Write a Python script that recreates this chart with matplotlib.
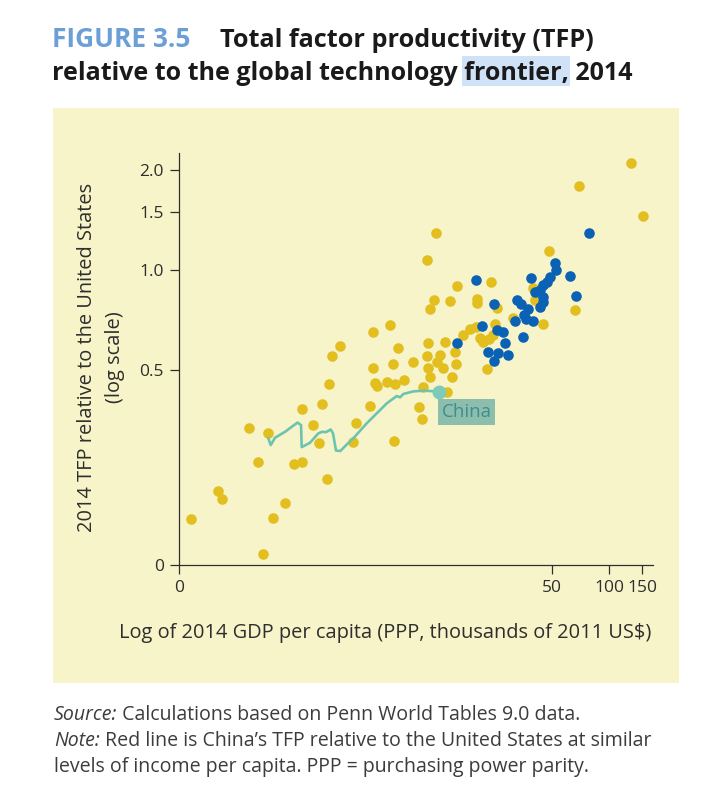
import numpy as np
import matplotlib
matplotlib.use("Agg")
import matplotlib.pyplot as plt
from matplotlib import font_manager as fm
from matplotlib.patches import Rectangle

# Figure size in pixels (dpi 100)
W, H = 709, 797

# --- data (natural logs: GDP per capita in thousands of 2011 US$, TFP relative to US) ---
yellow_log_gdp = [4.873, 4.240, 5.019, 2.501, 2.392, 3.876, 2.757, 3.170, 2.477, 2.428,
                  2.672, 3.000, 3.000, 3.243, 3.681, 3.705, 4.192, 3.803, 3.438, 1.942,
                  1.735, 2.830, 2.915, 2.988, 3.219, 3.036, 3.073, 3.146, 3.195, 3.122,
                  2.404, 2.611, 2.039, 1.334, 1.237, 2.732, 2.392, 2.550, 2.514, 2.587,
                  2.745, 2.222, 1.979, 1.735, 2.404, 2.428, 2.696, 2.112, 2.343, 2.635,
                  1.760, 1.784, 1.906, 2.003, 1.200, 1.699, 0.872, 1.115, 2.295, 2.331,
                  0.228, 0.459, 1.006, 1.529, 1.079, 1.492, 1.991, 0.337, 0.775, 0.872,
                  1.176, -0.149, -0.101, 0.665, -0.478, 0.519, 0.398]
yellow_log_tfp = [0.742, 0.582, 0.374, 0.256, 0.069, 0.132, -0.111, -0.083, -0.208, -0.270,
                  -0.215, -0.201, -0.229, -0.263, -0.125, -0.208, -0.277, -0.374, -0.333, -0.381,
                  -0.430, -0.450, -0.409, -0.395, -0.374, -0.471, -0.499, -0.478, -0.450, -0.686,
                  -0.506, -0.499, -0.541, -0.527, -0.596, -0.568, -0.596, -0.589, -0.638, -0.679,
                  -0.651, -0.638, -0.651, -0.679, -0.679, -0.742, -0.742, -0.762, -0.811, -0.845,
                  -0.783, -0.804, -0.776, -0.790, -0.790, -0.942, -0.963, -0.929, -0.949, -1.033,
                  -1.095, -1.130, -1.074, -1.060, -1.199, -1.192, -1.185, -1.331, -1.344, -1.331,
                  -1.448, -1.532, -1.587, -1.615, -1.726, -1.719, -1.968]

blue_log_gdp = [4.362, 2.988, 3.948, 3.961, 4.131, 3.657, 3.888, 3.851, 3.803, 3.766,
                3.705, 4.204, 3.803, 3.803, 3.486, 3.535, 3.766, 3.207, 3.620, 3.572,
                3.462, 3.596, 3.681, 3.061, 3.243, 3.316, 3.559, 2.757, 3.340, 3.134,
                3.255, 3.377, 3.207]
blue_log_tfp = [0.256, -0.069, 0.049, 0.000, -0.042, -0.055, -0.049, -0.083, -0.104, -0.139,
                -0.152, -0.180, -0.187, -0.222, -0.208, -0.236, -0.256, -0.236, -0.270, -0.312,
                -0.353, -0.340, -0.353, -0.388, -0.416, -0.430, -0.464, -0.506, -0.506, -0.568,
                -0.575, -0.589, -0.631]

china_log_gdp = [0.462, 0.491, 0.544, 0.665, 0.817, 0.860, 0.868, 0.969, 1.070, 1.115,
                 1.164, 1.221, 1.249, 1.285, 1.338, 1.416, 1.496, 1.659, 1.800, 1.902,
                 2.024, 2.064, 2.104, 2.225, 2.347, 2.449, 2.542]
china_log_tfp = [-1.166, -1.213, -1.162, -1.121, -1.057, -1.074, -1.227, -1.197, -1.132, -1.121,
                 -1.123, -1.105, -1.132, -1.251, -1.254, -1.209, -1.166, -1.062, -0.982, -0.924,
                 -0.873, -0.882, -0.859, -0.841, -0.836, -0.839, -0.843]

# axis origin (labelled "0" in the source) and tick labels
x_origin, y_origin = -0.624, -2.044
x_tick_values = [50, 100, 150]
x_tick_labels = ["0", "50", "100", "150"]
y_tick_values = [2.0, 1.5, 1.0, 0.5]
y_tick_labels = ["2.0", "1.5", "1.0", "0.5", "0"]

# --- fonts ---
names = {f.name for f in fm.fontManager.ttflist}
body = "Liberation Sans Narrow" if "Liberation Sans Narrow" in names else "Open Sans"
plt.rcParams["font.family"] = [body, "DejaVu Sans"]

YELLOW = "#E3BE1F"
BLUE = "#0B62B4"
PANEL = "#F8F4CA"
TEAL = "#6CC4B0"
INK = "#2E2E2E"

fig = plt.figure(figsize=(W / 100, H / 100), dpi=100)
renderer = fig.canvas.get_renderer()


def fx(px):
    return px / W


def fy(py):
    return 1 - py / H


def fit(t, target, vertical=False):
    bb = t.get_window_extent(renderer)
    w = bb.height if vertical else bb.width
    t.set_fontsize(t.get_fontsize() * target / w)
    return t


def width_of(s, **kw):
    t = fig.text(0, 0, s, **kw)
    w = t.get_window_extent(renderer).width
    t.remove()
    return w


# yellow panel (behind the axes)
fig.patches.append(Rectangle((fx(53), fy(683)), (679 - 53) / W, (683 - 108) / H,
                             transform=fig.transFigure, fc=PANEL, ec="none", zorder=-5))

ax = fig.add_axes([fx(179), fy(565), (653 - 179) / W, (565 - 153) / H])
ax.set_facecolor("none")
ax.set_zorder(2)

ax.scatter(yellow_log_gdp, yellow_log_tfp, s=58, color=YELLOW, linewidths=0, zorder=2)
ax.scatter(blue_log_gdp, blue_log_tfp, s=58, color=BLUE, linewidths=0, zorder=3)
ax.plot(china_log_gdp, china_log_tfp, color=TEAL, lw=1.9, zorder=4, solid_joinstyle="round")
ax.scatter([china_log_gdp[-1]], [china_log_tfp[-1]], s=100, color="#7DCBB8", linewidths=0, zorder=5)
lab = ax.annotate("China", xy=(china_log_gdp[-1], china_log_tfp[-1]), xytext=(1.5, -8),
                  textcoords="offset points", ha="left", va="top", color="#3F8E8E",
                  fontsize=15, zorder=6,
                  bbox=dict(boxstyle="square,pad=0.2", fc="#8DBDAD", ec="none"))
fit(lab, 50)

ax.set_xlim(x_origin, 5.14)
ax.set_ylim(y_origin, 0.811)
ax.set_xticks([x_origin] + list(np.log(x_tick_values)))
ax.set_xticklabels(x_tick_labels)
ax.set_yticks(list(np.log(y_tick_values)) + [y_origin])
ax.set_yticklabels(y_tick_labels)

for side in ["top", "right"]:
    ax.spines[side].set_visible(False)
for side in ["left", "bottom"]:
    ax.spines[side].set_color(INK)
    ax.spines[side].set_linewidth(0.9)
ax.tick_params(direction="out", length=6.5, width=0.9, color=INK, labelcolor=INK,
               labelsize=12.5, pad=4.5)

# axis labels
yl1 = fig.text(fx(87), fy(357), "2014 TFP relative to the United States", rotation=90,
               ha="center", va="center", color=INK, fontsize=14)
fit(yl1, 350, vertical=True)
fig.text(fx(115), fy(357), "(log scale)", rotation=90, ha="center", va="center",
         color=INK, fontsize=yl1.get_fontsize())
xl = fig.text(fx(385), fy(633), "Log of 2014 GDP per capita (PPP, thousands of 2011 US$)",
              ha="center", va="center", color=INK, fontsize=14)
fit(xl, 535)

# title
t1a = fig.text(fx(52), fy(47), "FIGURE 3.5", color="#6C9FD5", fontweight="bold", fontsize=18)
fit(t1a, 138)
t1b = fig.text(fx(220), fy(47), "Total factor productivity (TFP)", color="#1A1A1A",
               fontweight="bold", fontsize=18)
fit(t1b, 374)
line2 = "relative to the global technology frontier, 2014"
t2 = fig.text(fx(52), fy(80), line2, color="#1A1A1A", fontweight="bold", fontsize=18, zorder=3)
fit(t2, 580)
kw = dict(fontweight="bold", fontsize=t2.get_fontsize())
pre = width_of("relative to the global technology", **kw)
sp = width_of("a b", **kw) - width_of("ab", **kw)
wf = width_of("frontier,", **kw)
hx0 = 52 + pre + sp * 0.6
fig.patches.append(Rectangle((fx(hx0), fy(86)), (wf + sp * 0.5) / W, 30 / H,
                             transform=fig.transFigure, fc="#CFE2F7", ec="none", zorder=1))

# footer
FOOT = "#3C3C3C"
fs = 12
tmp = fig.text(0, 0, "Note: Red line is China\u2019s TFP relative to the United States at similar",
               fontsize=fs)
fs = fs * 599 / tmp.get_window_extent(renderer).width
tmp.remove()


def foot_line(y, italic_part, rest):
    x = 54
    if italic_part:
        fig.text(fx(x), fy(y), italic_part, style="italic", color=FOOT, fontsize=fs)
        x += width_of(italic_part, style="italic", fontsize=fs)
    fig.text(fx(x), fy(y), rest, color=FOOT, fontsize=fs)


foot_line(720, "Source:", " Calculations based on Penn World Tables 9.0 data.")
foot_line(746, "Note:", " Red line is China\u2019s TFP relative to the United States at similar")
foot_line(772, "", "levels of income per capita. PPP = purchasing power parity.")

fig.savefig("out.png", dpi=100, facecolor="white")
